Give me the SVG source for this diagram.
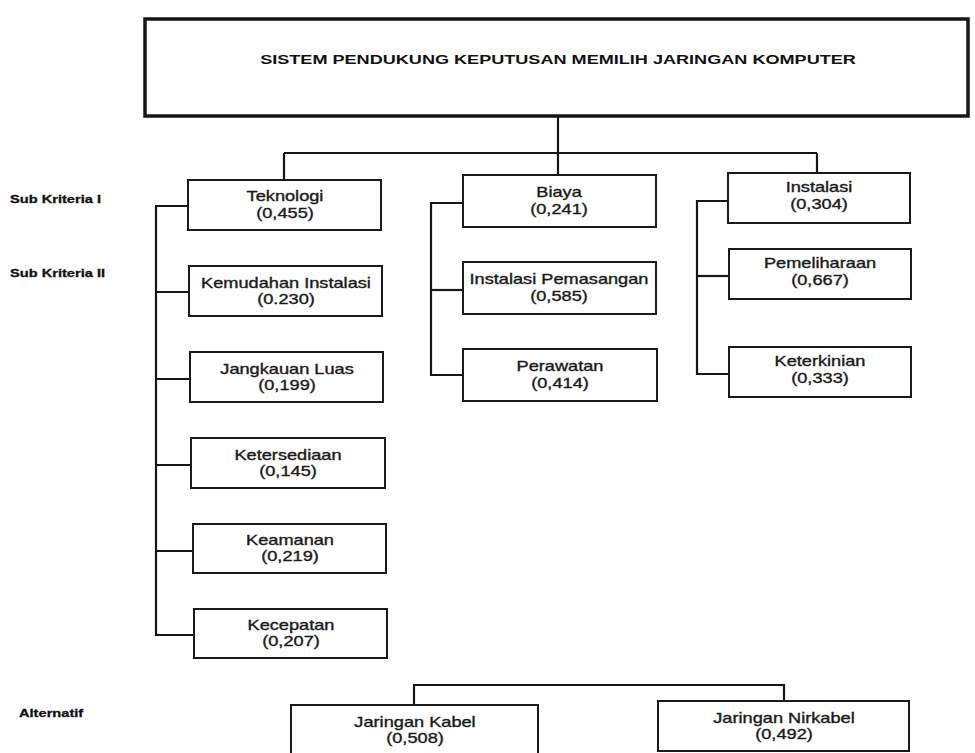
<svg xmlns="http://www.w3.org/2000/svg" width="975" height="753" viewBox="0 0 975 753">
<style>
.bg{fill:#ffffff}
.box{fill:#ffffff;stroke:#1a1a1a;stroke-width:2}
.title{fill:#ffffff;stroke:#161616;stroke-width:3.5}
.con{fill:none;stroke:#161616;stroke-width:2.2;stroke-linejoin:miter}
.t{font-family:"Liberation Sans",Arial,sans-serif;font-size:14px;fill:#1a1a1a;stroke:#1a1a1a;stroke-width:0.35;text-anchor:middle}
.tt{font-family:"Liberation Sans",Arial,sans-serif;font-size:13.5px;font-weight:bold;fill:#111;text-anchor:middle}
.lab{font-family:"Liberation Sans",Arial,sans-serif;font-size:11px;font-weight:bold;fill:#111;stroke:#111;stroke-width:0.3;text-anchor:start}
</style>
<rect class="bg" x="0" y="0" width="975" height="753"/>

<g id="connectors">
  <path class="con" d="M558 117 V175"/>
  <path class="con" d="M284 153 H817"/>
  <path class="con" d="M284 153 V180"/>
  <path class="con" d="M817 153 V173"/>
  <path class="con" d="M188 206 H156 V635 H194"/>
  <path class="con" d="M156 292 H189"/>
  <path class="con" d="M156 379 H190"/>
  <path class="con" d="M156 465 H191"/>
  <path class="con" d="M156 551 H193"/>
  <path class="con" d="M463 203 H431 V375 H463"/>
  <path class="con" d="M431 290 H463"/>
  <path class="con" d="M728 201 H697 V374 H729"/>
  <path class="con" d="M697 276 H729"/>
  <path class="con" d="M414 705 V685 H784 V701"/>
</g>

<g id="title">
  <rect class="title" x="145" y="19" width="823" height="97"/>
  <text class="tt" transform="translate(558 64) scale(1.34 1)">SISTEM PENDUKUNG KEPUTUSAN MEMILIH JARINGAN KOMPUTER</text>
</g>

<g id="labels">
  <text class="lab" transform="translate(10 203) scale(1.33 1)">Sub Kriteria I</text>
  <text class="lab" transform="translate(10 277) scale(1.33 1)">Sub Kriteria II</text>
  <text class="lab" transform="translate(19 717) scale(1.33 1)">Alternatif</text>
</g>

<g id="teknologi">
  <rect class="box" x="188" y="180" width="193" height="50"/>
  <text class="t" transform="translate(285 201) scale(1.3 1)">Teknologi</text>
  <text class="t" transform="translate(285 218) scale(1.3 1)">(0,455)</text>
</g>
<g id="kemudahan">
  <rect class="box" x="189" y="266" width="193" height="50"/>
  <text class="t" transform="translate(286 288) scale(1.3 1)">Kemudahan Instalasi</text>
  <text class="t" transform="translate(286 304) scale(1.3 1)">(0.230)</text>
</g>
<g id="jangkauan">
  <rect class="box" x="190" y="352" width="193" height="50"/>
  <text class="t" transform="translate(287 374) scale(1.3 1)">Jangkauan Luas</text>
  <text class="t" transform="translate(287 390) scale(1.3 1)">(0,199)</text>
</g>
<g id="ketersediaan">
  <rect class="box" x="191" y="438" width="194" height="50"/>
  <text class="t" transform="translate(288 460) scale(1.3 1)">Ketersediaan</text>
  <text class="t" transform="translate(288 476) scale(1.3 1)">(0,145)</text>
</g>
<g id="keamanan">
  <rect class="box" x="193" y="524" width="193" height="49"/>
  <text class="t" transform="translate(290 545) scale(1.3 1)">Keamanan</text>
  <text class="t" transform="translate(290 561) scale(1.3 1)">(0,219)</text>
</g>
<g id="kecepatan">
  <rect class="box" x="194" y="609" width="193" height="49"/>
  <text class="t" transform="translate(291 630) scale(1.3 1)">Kecepatan</text>
  <text class="t" transform="translate(291 646) scale(1.3 1)">(0,207)</text>
</g>

<g id="biaya">
  <rect class="box" x="463" y="175" width="193" height="52"/>
  <text class="t" transform="translate(559 197) scale(1.3 1)">Biaya</text>
  <text class="t" transform="translate(559 214) scale(1.3 1)">(0,241)</text>
</g>
<g id="instalasi-pemasangan">
  <rect class="box" x="463" y="262" width="193" height="52"/>
  <text class="t" transform="translate(559 284) scale(1.3 1)">Instalasi Pemasangan</text>
  <text class="t" transform="translate(559 301) scale(1.3 1)">(0,585)</text>
</g>
<g id="perawatan">
  <rect class="box" x="463" y="349" width="194" height="52"/>
  <text class="t" transform="translate(560 371) scale(1.3 1)">Perawatan</text>
  <text class="t" transform="translate(560 388) scale(1.3 1)">(0,414)</text>
</g>

<g id="instalasi">
  <rect class="box" x="728" y="173" width="182" height="50"/>
  <text class="t" transform="translate(819 192) scale(1.3 1)">Instalasi</text>
  <text class="t" transform="translate(819 209) scale(1.3 1)">(0,304)</text>
</g>
<g id="pemeliharaan">
  <rect class="box" x="729" y="249" width="182" height="50"/>
  <text class="t" transform="translate(820 268) scale(1.3 1)">Pemeliharaan</text>
  <text class="t" transform="translate(820 285) scale(1.3 1)">(0,667)</text>
</g>
<g id="keterkinian">
  <rect class="box" x="729" y="347" width="182" height="50"/>
  <text class="t" transform="translate(820 366) scale(1.3 1)">Keterkinian</text>
  <text class="t" transform="translate(820 383) scale(1.3 1)">(0,333)</text>
</g>

<g id="jaringan-kabel">
  <rect class="box" x="291" y="705" width="247" height="55"/>
  <text class="t" transform="translate(415 727) scale(1.3 1)">Jaringan Kabel</text>
  <text class="t" transform="translate(415 743) scale(1.3 1)">(0,508)</text>
</g>
<g id="jaringan-nirkabel">
  <rect class="box" x="658" y="701" width="251" height="50"/>
  <text class="t" transform="translate(784 723) scale(1.3 1)">Jaringan Nirkabel</text>
  <text class="t" transform="translate(784 739) scale(1.3 1)">(0,492)</text>
</g>
</svg>
